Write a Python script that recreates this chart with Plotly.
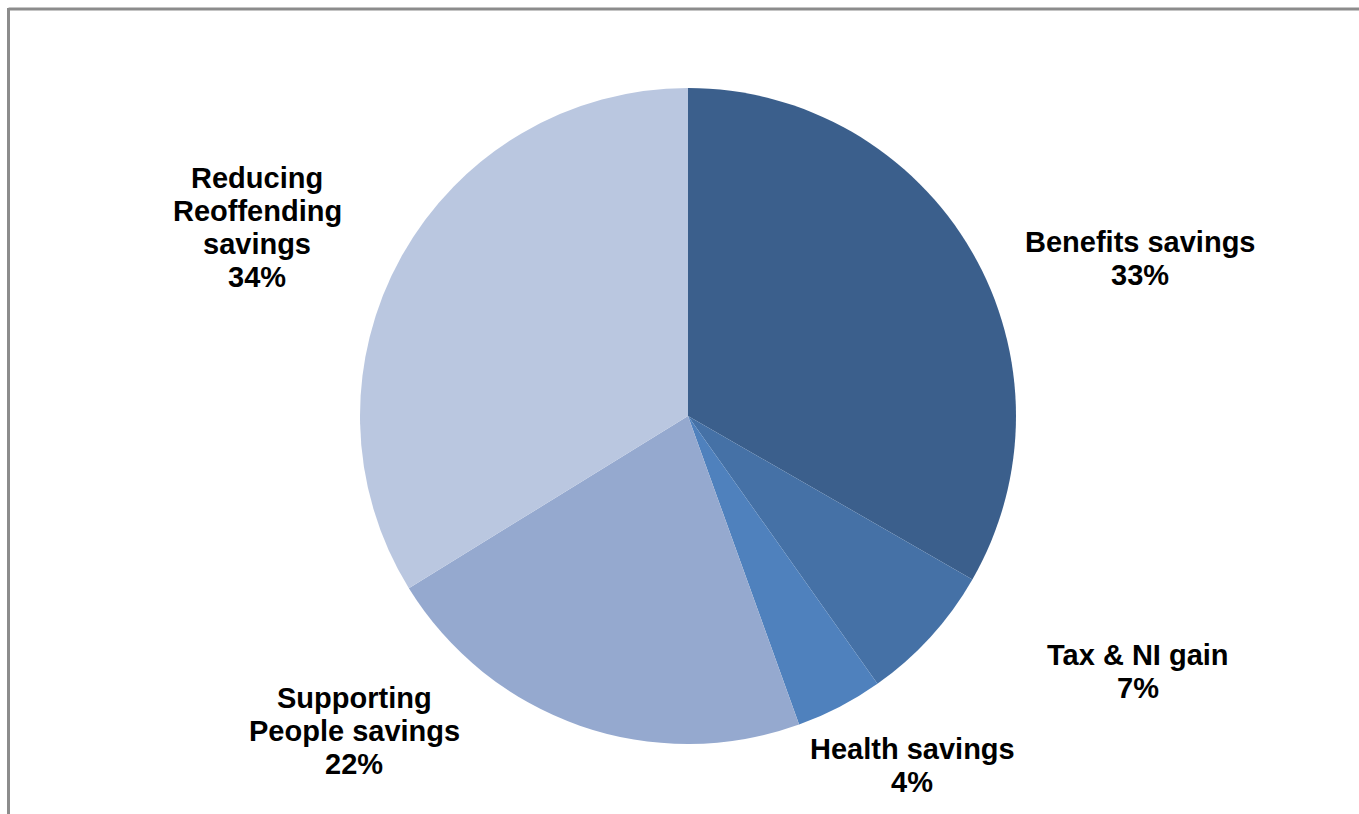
import plotly.graph_objects as go

labels = ["Benefits savings", "Tax & NI gain", "Health savings",
          "Supporting People savings", "Reducing Reoffending savings"]
values = [33.3, 6.9, 4.3, 21.7, 33.8]
pct_text = ["33%", "7%", "4%", "22%", "34%"]
label_lines = [["Benefits savings"], ["Tax & NI gain"], ["Health savings"],
               ["Supporting", "People savings"], ["Reducing", "Reoffending", "savings"]]
colors = ["#3B5F8C", "#4571A6", "#4F81BD", "#95A9CF", "#BAC7E0"]

# label anchor: (x centre, y of first line centre) in pixels
label_pos = [(1140, 242), (1138, 655), (912, 749), (354, 698), (257, 178)]
line_step = 33

W, H = 1359, 814
cx, cy, r = 688, 416, 328

fig = go.Figure(go.Pie(
    labels=labels, values=values, sort=False, direction="clockwise",
    rotation=0, textinfo="none", hoverinfo="label+percent",
    marker=dict(colors=colors, line=dict(width=0)),
    domain=dict(x=[(cx - r) / W, (cx + r) / W], y=[1 - (cy + r) / H, 1 - (cy - r) / H]),
    showlegend=False,
))

for lines, pct, (px, py) in zip(label_lines, pct_text, label_pos):
    for i, t in enumerate(lines + [pct]):
        fig.add_annotation(
            x=px / W, y=1 - (py + i * line_step) / H, xref="paper", yref="paper",
            text=f"<b>{t}</b>", showarrow=False,
            font=dict(family="Liberation Sans, Arial, sans-serif", size=29, color="#000000"),
            align="center", xanchor="center", yanchor="middle",
        )

# frame (cut off at right and bottom)
fig.add_shape(type="line", xref="paper", yref="paper",
              x0=8.5 / W, x1=1.0, y0=1 - 9 / H, y1=1 - 9 / H,
              line=dict(color="#8C8C8C", width=3))
fig.add_shape(type="line", xref="paper", yref="paper",
              x0=8.5 / W, x1=8.5 / W, y0=1 - 8 / H, y1=0,
              line=dict(color="#8C8C8C", width=3))

fig.update_layout(
    width=W, height=H, margin=dict(l=0, r=0, t=0, b=0),
    paper_bgcolor="white", plot_bgcolor="white",
)
fig.write_html("out.html")
